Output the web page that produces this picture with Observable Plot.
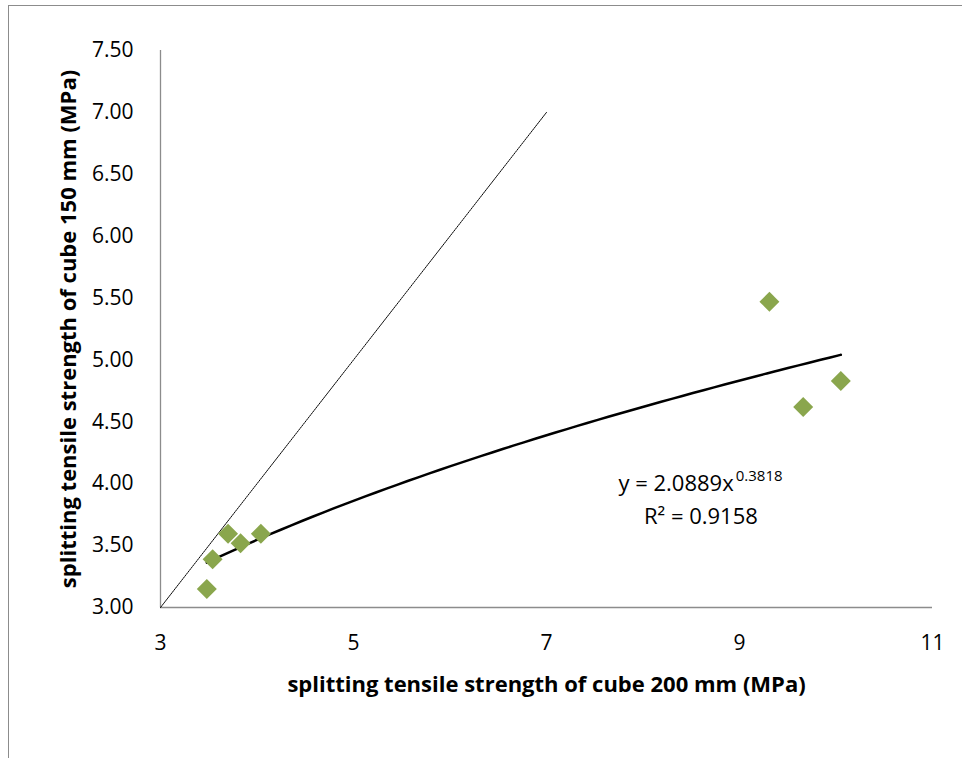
<!DOCTYPE html>
<html>
<head>
<meta charset="utf-8">
<script src="https://cdn.jsdelivr.net/npm/d3@7"></script>
<script src="https://cdn.jsdelivr.net/npm/@observablehq/plot@0.6"></script>
<style>
  html, body { margin: 0; padding: 0; background: #fff; }
  #wrap { position: relative; width: 962px; height: 758px; overflow: hidden; }
  #frame { position: absolute; left: 8px; top: 5px; width: 1000px; height: 800px;
           border-left: 1px solid #8c8c8c; border-top: 1px solid #8c8c8c; }
  #chart { position: absolute; left: 0; top: 0; }
</style>
</head>
<body>
<div id="wrap"><div id="frame"></div><div id="chart"></div></div>
<script>
// Data
const xValues = [3.70, 3.83, 4.04, 3.54, 3.48, 9.31, 10.05, 9.66];
const yValues = [3.595, 3.52, 3.595, 3.39, 3.15, 5.47, 4.83, 4.62];
const xTicks = [3, 5, 7, 9, 11];
const yTicks = [3.0, 3.5, 4.0, 4.5, 5.0, 5.5, 6.0, 6.5, 7.0, 7.5];
// Power trendline from the chart: y = a * x^b
const trendA = 2.0889;
const trendB = 0.3818;
const equationText = "y = 2.0889x";
const equationExp = "0.3818";
const r2Text = "R² = 0.9158";
// Equality reference line endpoints
const refLine = [3, 7];
// Label anchor positions (data units)
const eqPos = [8.94, 4.0];
const r2Pos = [8.60, 3.735];

const points = xValues.map((x, i) => ({x, y: yValues[i]}));
const xMin = d3.min(xValues), xMax = d3.max(xValues);
const trend = d3.range(0, 61).map(i => {
  const x = xMin + (xMax - xMin) * i / 60;
  return {x, y: trendA * Math.pow(x, trendB)};
});
const diag = refLine.map(v => ({x: v, y: v}));

const font = "'Open Sans', sans-serif";
const plot = Plot.plot({
  width: 962,
  height: 758,
  marginLeft: 160,
  marginRight: 30,
  marginTop: 50,
  marginBottom: 151,
  style: {fontFamily: font, fontSize: "21px", color: "#000", background: "transparent", overflow: "visible"},
  x: {domain: [3, 11]},
  y: {domain: [3, 7.5]},
  marks: [
    Plot.ruleX([3], {stroke: "#8c8c8c", strokeWidth: 1.3}),
    Plot.ruleY([3], {stroke: "#8c8c8c", strokeWidth: 1.3}),
    Plot.axisX({ticks: xTicks, tickFormat: d3.format("d"), tickSize: 0, tickPadding: 28, label: null, fontSize: 21}),
    Plot.axisY({ticks: yTicks, tickFormat: d3.format(".2f"), tickSize: 0, tickPadding: 27, label: null, fontSize: 21}),
    Plot.line(diag, {x: "x", y: "y", stroke: "#000", strokeWidth: 1, strokeDasharray: "1.5,1"}),
    Plot.line(trend, {x: "x", y: "y", stroke: "#000", strokeWidth: 2.5, curve: "natural"}),
    Plot.dot(points, {x: "x", y: "y", symbol: "diamond2", r: 9, fill: "#8aa64d", stroke: "none"}),
    Plot.text([equationText], {x: eqPos[0], y: eqPos[1], text: d => d, textAnchor: "end", fontSize: 22}),
    Plot.text([equationExp], {x: eqPos[0], y: eqPos[1], text: d => d, textAnchor: "start", fontSize: 15, dx: 2, dy: -8}),
    Plot.text([r2Text], {x: r2Pos[0], y: r2Pos[1], text: d => d, textAnchor: "middle", fontSize: 22}),
    Plot.text(["splitting tensile strength of cube 200 mm (MPa)"], {frameAnchor: "bottom", textAnchor: "middle", dy: 84, text: d => d, fontWeight: "bold", fontSize: 22}),
    Plot.text(["splitting tensile strength of cube 150 mm (MPa)"], {frameAnchor: "left", textAnchor: "middle", dx: -92, rotate: -90, text: d => d, fontWeight: "bold", fontSize: 22})
  ]
});
document.getElementById("chart").appendChild(plot);
</script>
</body>
</html>
